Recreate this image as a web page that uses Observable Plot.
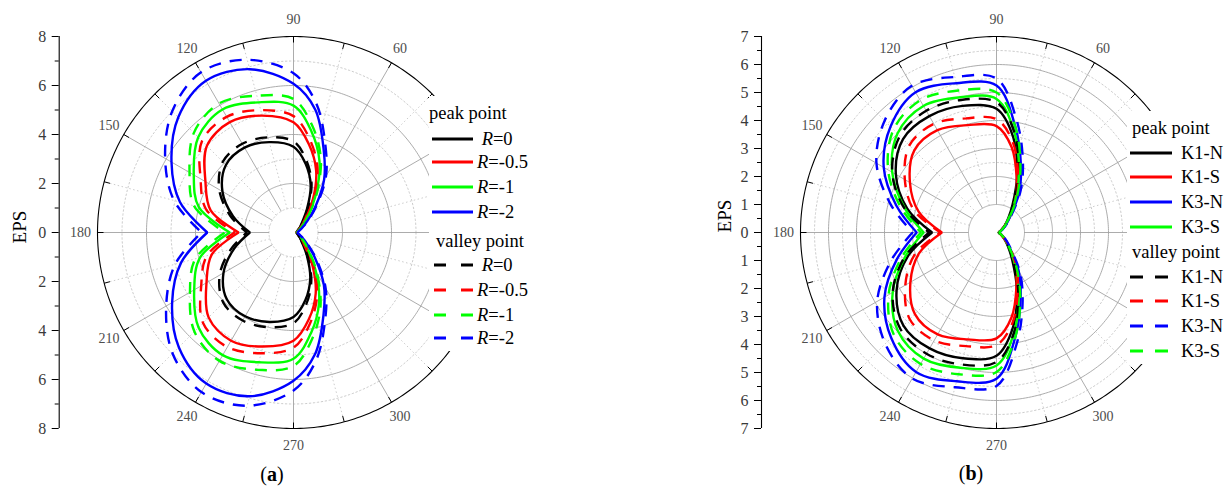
<!DOCTYPE html>
<html>
<head>
<meta charset="utf-8">
<script src="https://cdn.jsdelivr.net/npm/d3@7"></script>
<script src="https://cdn.jsdelivr.net/npm/@observablehq/plot@0.6"></script>
<style>
  body { margin: 0; background: #fff; }
  #wrap { position: relative; width: 1230px; height: 488px; overflow: hidden;
          font-family: "Liberation Serif", "Times New Roman", serif; color: #000; }
  #wrap svg.plotsvg { position: absolute; top: 0; }
  .legend { position: absolute; background: #fff; }
  .legend .row { position: absolute; left: 0; height: 22px; line-height: 22px; font-size: 18.5px; white-space: pre;
                 font-family: "Liberation Serif", "Times New Roman", serif; }
  .legend svg { position: absolute; overflow: visible; }
  .title { position: absolute; transform: translate(-50%, -50%); font-size: 20px; white-space: pre; }
  .ylab { position: absolute; transform: translate(-50%, -50%) rotate(-90deg); font-size: 19px; }
</style>
</head>
<body>
<div id="wrap"></div>
<script>
// Polar angles (degrees) at which EPS was sampled.
const angles = [0,10,20,30,40,50,60,70,80,90,105,120,135,150,165,180,
                195,210,225,240,255,270,280,290,300,310,320,330,340,350,360];

// Panel (a): peak point, stress ratio R
const aPeakR0   = [0.12,0.13,0.16,0.22,0.35,0.55,1.10,2.05,2.85,3.50,3.82,4.00,3.90,3.35,2.55,1.78,
                   2.50,3.30,3.85,3.95,3.78,3.45,2.80,2.00,1.10,0.55,0.35,0.22,0.16,0.13,0.12];
const aPeakR05  = [0.12,0.14,0.18,0.26,0.42,0.75,1.60,2.70,3.65,4.50,4.94,5.20,5.00,4.15,3.50,2.24,
                   3.45,4.10,4.90,5.10,4.82,4.42,3.60,2.65,1.55,0.72,0.40,0.26,0.18,0.14,0.12];
const aPeakR1   = [0.13,0.15,0.20,0.30,0.50,0.95,1.85,3.10,4.20,5.18,5.50,5.80,5.50,4.70,4.00,2.60,
                   3.95,4.68,5.48,5.78,5.48,5.15,4.15,3.05,1.82,0.92,0.48,0.30,0.20,0.15,0.13];
const aPeakR2   = [0.15,0.18,0.25,0.40,0.75,1.40,2.50,3.60,5.10,6.07,6.90,7.15,6.65,5.75,4.80,3.52,
                   4.75,5.72,6.62,7.12,6.92,6.05,5.05,3.58,2.48,1.38,0.72,0.40,0.25,0.18,0.15];
// Panel (a): valley point
const aValleyR0  = [0.12,0.14,0.17,0.24,0.38,0.60,1.20,2.15,3.00,3.72,4.02,4.18,4.08,3.50,2.68,1.90,
                    2.65,3.48,4.05,4.15,4.00,3.70,2.98,2.12,1.18,0.58,0.37,0.24,0.17,0.14,0.12];
const aValleyR05 = [0.12,0.15,0.19,0.28,0.45,0.80,1.70,2.85,3.85,4.75,5.17,5.45,5.28,4.38,3.70,2.40,
                    3.66,4.35,5.22,5.40,5.10,4.70,3.80,2.80,1.65,0.78,0.44,0.27,0.19,0.15,0.12];
const aValleyR1  = [0.13,0.16,0.21,0.32,0.53,1.00,1.95,3.25,4.42,5.45,5.78,6.08,5.75,4.90,4.20,2.80,
                    4.15,4.88,5.72,6.05,5.80,5.45,4.40,3.22,1.92,0.98,0.52,0.31,0.21,0.16,0.13];
const aValleyR2  = [0.15,0.19,0.27,0.43,0.80,1.50,2.65,3.80,5.35,6.50,7.30,7.55,7.00,6.05,5.05,3.75,
                    5.00,6.00,6.98,7.52,7.32,6.45,5.30,3.78,2.62,1.48,0.78,0.42,0.26,0.19,0.15];

// Panel (b): peak point, specimen groups
const bPeakK1N = [0.08,0.10,0.14,0.22,0.38,0.65,1.15,2.15,3.45,4.42,4.68,4.80,4.72,4.15,3.30,2.30,
                  3.28,4.12,4.70,4.78,4.65,4.40,3.42,2.12,1.12,0.63,0.37,0.22,0.14,0.10,0.08];
const bPeakK1S = [0.08,0.10,0.14,0.22,0.40,0.75,1.35,2.10,3.10,3.80,3.97,4.22,4.15,3.57,2.88,1.95,
                  2.86,3.55,4.12,4.20,3.95,3.78,3.08,2.08,1.33,0.73,0.39,0.22,0.14,0.10,0.08];
const bPeakK3N = [0.09,0.11,0.16,0.26,0.45,0.78,1.60,2.55,3.85,5.25,5.52,5.78,5.35,4.65,3.70,2.85,
                  3.68,4.62,5.32,5.75,5.50,5.22,3.82,2.52,1.58,0.76,0.44,0.26,0.16,0.11,0.09];
const bPeakK3S = [0.08,0.10,0.15,0.24,0.40,0.70,1.35,2.35,3.65,4.77,5.00,5.22,5.00,4.30,3.40,2.60,
                  3.38,4.28,4.98,5.20,5.00,4.75,3.62,2.32,1.33,0.68,0.39,0.24,0.15,0.10,0.08];
// Panel (b): valley point
const bValleyK1N = [0.08,0.10,0.15,0.23,0.40,0.70,1.25,2.30,3.65,4.65,4.90,5.02,4.88,4.30,3.42,2.40,
                    3.40,4.28,4.86,5.00,4.88,4.62,3.62,2.28,1.22,0.68,0.39,0.23,0.15,0.10,0.08];
const bValleyK1S = [0.08,0.10,0.15,0.23,0.42,0.80,1.45,2.25,3.30,4.05,4.22,4.48,4.40,3.78,3.05,2.00,
                    3.02,3.76,4.38,4.45,4.20,4.02,3.28,2.22,1.42,0.78,0.41,0.23,0.15,0.10,0.08];
const bValleyK3N = [0.09,0.12,0.17,0.28,0.48,0.85,1.72,2.75,4.10,5.50,5.75,6.05,5.65,4.95,3.92,3.00,
                    3.90,4.92,5.62,6.02,5.72,5.48,4.08,2.72,1.70,0.83,0.47,0.28,0.17,0.12,0.09];
const bValleyK3S = [0.08,0.11,0.16,0.25,0.42,0.75,1.45,2.50,3.85,5.00,5.25,5.45,5.20,4.47,3.55,2.70,
                    3.52,4.45,5.18,5.42,5.24,4.98,3.82,2.48,1.42,0.73,0.41,0.25,0.16,0.11,0.08];

// Legend entries and colours
const aLabels = [" R=0", "R=-0.5", "R=-1", "R=-2"];
const aColors = ["#000000", "#ff0000", "#00ff00", "#0000ff"];
const bLabels = ["K1-N", "K1-S", "K3-N", "K3-S"];
const bColors = ["#000000", "#ff0000", "#0000ff", "#00ff00"];
const groupTitles = ["peak point", "valley point"];

// Axis ticks
const aRadialMajor = [-8,-6,-4,-2,0,2,4,6,8];
const aRadialMinor = [-7,-5,-3,-1,1,3,5,7];
const bRadialMajor = [-7,-6,-5,-4,-3,-2,-1,0,1,2,3,4,5,6,7];
const bRadialMinor = [-6.5,-5.5,-4.5,-3.5,-2.5,-1.5,-0.5,0.5,1.5,2.5,3.5,4.5,5.5,6.5];
const angleLabels = [60, 90, 120, 150, 180, 210, 240, 270, 300];

const SERIF = "'Liberation Serif', 'Times New Roman', serif";
const W = 615, H = 488;
const RAD = Math.PI / 180;
const px = (a, r) => r * Math.cos(a * RAD);
const py = (a, r) => r * Math.sin(a * RAD);

// Points of one closed curve; the 180° sample is repeated so the curve keeps its corner there.
function curvePoints(vals) {
  const pts = [];
  angles.forEach((a, i) => {
    pts.push({a, r: vals[i]});
    if (a === 180) pts.push({a, r: vals[i]});
  });
  return pts;
}

function polarPanel({cx, cy, unit, axisPx, rMax, major, minor, circlesMajor, circlesMinor, peak, valley, colors}) {
  const xMin = (axisPx - cx) / unit, xMax = (W - cx) / unit;
  const yMin = -(H - cy) / unit, yMax = cy / unit;
  const ring = radii => radii.flatMap(r => d3.range(0, 361, 1).map(a => ({a, r})));
  const spokesMajor = d3.range(0, 360, 30);
  const spokesMinor = d3.range(15, 360, 30);
  const arcTicks = d3.range(0, 360, 15);
  const xy = {x: d => px(d.a, d.r), y: d => py(d.a, d.r)};
  const marks = [
    Plot.line(ring(circlesMinor), {...xy, z: "r", stroke: "#c6c6c6", strokeWidth: 0.9, strokeDasharray: "1.5,2.5"}),
    Plot.link(spokesMinor, {x1: a => px(a, 1), y1: a => py(a, 1), x2: a => px(a, rMax), y2: a => py(a, rMax),
                            stroke: "#c6c6c6", strokeWidth: 0.9, strokeDasharray: "1.5,2.5"}),
    Plot.line(ring(circlesMajor), {...xy, z: "r", stroke: "#a3a3a3", strokeWidth: 0.9}),
    Plot.link(spokesMajor, {x1: a => px(a, 1), y1: a => py(a, 1), x2: a => px(a, rMax), y2: a => py(a, rMax),
                            stroke: "#a3a3a3", strokeWidth: 0.9}),
    Plot.line(ring([rMax]), {...xy, stroke: "#000", strokeWidth: 1.1}),
    Plot.link(arcTicks, {x1: a => px(a, rMax), y1: a => py(a, rMax),
                         x2: a => px(a, rMax - 6 / unit), y2: a => py(a, rMax - 6 / unit),
                         stroke: "#000", strokeWidth: 1}),
    Plot.text(angleLabels, {x: a => px(a, rMax + 17 / unit), y: a => py(a, rMax + 17 / unit),
                            text: a => String(a), fill: "#4d4d4d", fontSize: 14, fontFamily: SERIF}),
    Plot.ruleX([xMin], {y1: -rMax, y2: rMax, stroke: "#000", strokeWidth: 1.1}),
    Plot.axisY({ticks: minor, tickSize: 4, tickFormat: () => "", stroke: "#000", label: null}),
    Plot.axisY({ticks: major, tickSize: 7, tickFormat: () => "", stroke: "#000", label: null}),
    Plot.axisY({ticks: major, tickSize: 0, tickPadding: 13, tickFormat: d => String(Math.abs(d)),
                fill: "#3a3a3a", fontSize: 16, fontFamily: SERIF, label: null})
  ];
  peak.forEach((vals, i) => {
    marks.push(Plot.line(curvePoints(vals), {...xy, stroke: colors[i], strokeWidth: 2.4,
      curve: "catmull-rom", strokeLinejoin: "miter", strokeLinecap: "round"}));
  });
  valley.forEach((vals, i) => {
    marks.push(Plot.line(curvePoints(vals), {...xy, stroke: colors[i], strokeWidth: 2.4,
      curve: "catmull-rom", strokeLinejoin: "miter", strokeLinecap: "butt", strokeDasharray: "12,9"}));
  });
  return Plot.plot({
    width: W, height: H,
    marginLeft: axisPx, marginRight: 0, marginTop: 0, marginBottom: 0,
    x: {domain: [xMin, xMax], axis: null},
    y: {domain: [yMin, yMax]},
    style: {background: "transparent", fontFamily: SERIF, overflow: "visible"},
    marks
  });
}

const wrap = document.getElementById("wrap");

function place(svg, left) {
  svg.classList.add("plotsvg");
  svg.style.left = left + "px";
  wrap.appendChild(svg);
}

place(polarPanel({
  cx: 293, cy: 232, unit: 24.5, axisPx: 58.7, rMax: 8,
  major: aRadialMajor, minor: aRadialMinor,
  circlesMajor: [2, 4, 6], circlesMinor: [1, 3, 5, 7],
  peak: [aPeakR0, aPeakR05, aPeakR1, aPeakR2],
  valley: [aValleyR0, aValleyR05, aValleyR1, aValleyR2],
  colors: aColors
}), 0);

place(polarPanel({
  cx: 381, cy: 232, unit: 28, axisPx: 146, rMax: 7,
  major: bRadialMajor, minor: bRadialMinor,
  circlesMajor: [1, 2, 3, 4, 5, 6], circlesMinor: [1.5, 2.5, 3.5, 4.5, 5.5, 6.5],
  peak: [bPeakK1N, bPeakK1S, bPeakK3N, bPeakK3S],
  valley: [bValleyK1N, bValleyK1S, bValleyK3N, bValleyK3S],
  colors: bColors
}), 615);

// Legend boxes
function legend({left, top, width, height, titleRows, titleLeft, rows, lineX, lineLen, labelX, dash, labels, colors}) {
  const box = document.createElement("div");
  box.className = "legend";
  Object.assign(box.style, {left: left + "px", top: top + "px", width: width + "px", height: height + "px"});
  const addText = (html, x, yc) => {
    const d = document.createElement("div");
    d.className = "row";
    d.style.left = x + "px";
    d.style.top = (yc - 11) + "px";
    d.innerHTML = html;
    box.appendChild(d);
  };
  const fmt = s => s.replace("R", "<i>R</i>");
  groupTitles.forEach((t, g) => {
    addText(t, titleLeft[g], titleRows[g]);
    labels.forEach((lab, i) => {
      const yc = rows[g][i];
      const s = document.createElementNS("http://www.w3.org/2000/svg", "svg");
      s.setAttribute("width", lineLen[g] + 2);
      s.setAttribute("height", 8);
      s.style.left = lineX[g] + "px";
      s.style.top = (yc - 4) + "px";
      const ln = document.createElementNS("http://www.w3.org/2000/svg", "line");
      ln.setAttribute("x1", 0); ln.setAttribute("x2", lineLen[g]);
      ln.setAttribute("y1", 4); ln.setAttribute("y2", 4);
      ln.setAttribute("stroke", colors[i]);
      ln.setAttribute("stroke-width", 2.8);
      if (g === 1) ln.setAttribute("stroke-dasharray", dash);
      s.appendChild(ln);
      box.appendChild(s);
      addText(fmt(lab), labelX, yc);
    });
  });
  wrap.appendChild(box);
}

legend({
  left: 429, top: 96, width: 160, height: 255,
  titleRows: [17, 145], titleLeft: [0, 7],
  rows: [[43, 66, 91, 116], [169, 194, 219, 242]],
  lineX: [3, 5], lineLen: [41, 39], labelX: 48, dash: "12,15",
  labels: aLabels, colors: aColors
});

legend({
  left: 1127, top: 111, width: 103, height: 253,
  titleRows: [17, 141], titleLeft: [5, 5],
  rows: [[42, 66, 91, 116], [166, 190, 215, 240]],
  lineX: [3, 3], lineLen: [42, 39], labelX: 54, dash: "13,12",
  labels: bLabels, colors: bColors
});

// Panel captions and radial axis titles
function addDiv(cls, html, x, y) {
  const d = document.createElement("div");
  d.className = cls;
  d.style.left = x + "px";
  d.style.top = y + "px";
  d.innerHTML = html;
  wrap.appendChild(d);
}
addDiv("title", "(<b>a</b>)", 272, 474);
addDiv("title", "(<b>b</b>)", 971, 473);
addDiv("ylab", "EPS", 20, 227);
addDiv("ylab", "EPS", 725, 216);
</script>
</body>
</html>
